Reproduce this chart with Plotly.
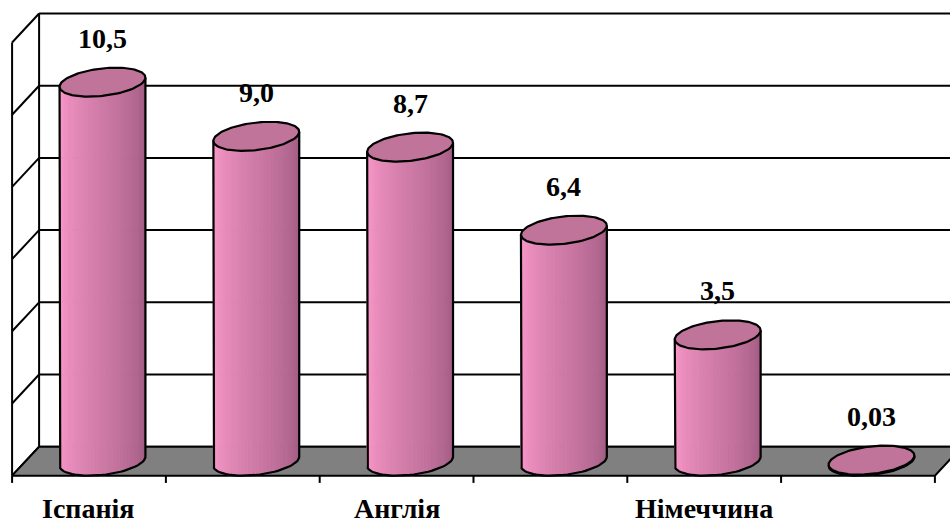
import numpy as np
import plotly.graph_objects as go

# ---- data ----
tick_labels = ["Іспанія", "", "Англія", "", "Німеччина", ""]
values = [10.5, 9.0, 8.7, 6.4, 3.5, 0.03]
value_labels = ["10,5", "9,0", "8,7", "6,4", "3,5", "0,03"]
y_ticks = [0, 2, 4, 6, 8, 10, 12]

# ---- style / geometry (axis units) ----
DEPTH_X = 0.1756   # full floor depth, horizontal shift
DEPTH_Y = 0.803    # full floor depth, vertical shift
RX = 0.265         # cylinder radius (x units)
N_STRIPS = 36
LIGHT = np.array([255, 156, 206])
DARK = np.array([158, 90, 128])
TOP_COLOR = "#C0749A"
FONT = "Liberation Serif"

n = len(values)
hx, hy = DEPTH_X / 2, DEPTH_Y / 2


def proj(c, v, d):
    return c + d * DEPTH_X, v + d * DEPTH_Y


fig = go.Figure()


def line(xs, ys, width=2, color="black"):
    fig.add_trace(go.Scatter(x=xs, y=ys, mode="lines",
                             line=dict(color=color, width=width),
                             hoverinfo="skip", showlegend=False))


x_left = -0.5
x_right = n - 0.5
ymax = y_ticks[-1]

# back wall gridlines
for v in y_ticks:
    x0, y0 = proj(x_left, v, 0.5)
    line([x0, x_right + 1.0], [y0, y0])
# left wall
fx0, fy0 = proj(x_left, 0, -0.5)
fx1, fy1 = proj(x_left, ymax, -0.5)
line([fx0, fx1], [fy0, fy1])
bx0, by0 = proj(x_left, 0, 0.5)
bx1, by1 = proj(x_left, ymax, 0.5)
line([bx0, bx1], [by0, by1])
for v in y_ticks:
    a = proj(x_left, v, -0.5)
    b = proj(x_left, v, 0.5)
    line([a[0], b[0]], [a[1], b[1]])

# floor
corners = [proj(x_left, 0, -0.5), proj(x_right, 0, -0.5),
           proj(x_right, 0, 0.5), proj(x_left, 0, 0.5), proj(x_left, 0, -0.5)]
fig.add_trace(go.Scatter(x=[c[0] for c in corners], y=[c[1] for c in corners],
                         mode="lines", fill="toself", fillcolor="#808080",
                         line=dict(color="black", width=2),
                         hoverinfo="skip", showlegend=False))
# front tick marks
for k in range(n + 1):
    bx, byy = proj(x_left + k, 0, -0.5)
    line([bx, bx], [byy, byy - 0.2])

# cylinders
alpha = np.arctan2(hx, RX)


def ell(c, v, th):
    return c + RX * np.cos(th) + hx * np.sin(th), v + hy * np.sin(th)


for i, v in enumerate(values):
    th = np.linspace(np.pi + alpha, 2 * np.pi + alpha, N_STRIPS + 1)
    for k in range(N_STRIPS):
        t = k / (N_STRIPS - 1)
        col = LIGHT * (1 - t) + DARK * t
        cs = "rgb(%d,%d,%d)" % tuple(col.astype(int))
        ta, tb = th[k], th[k + 1]
        p1 = ell(i, 0, ta); p2 = ell(i, 0, tb)
        p3 = ell(i, v, tb); p4 = ell(i, v, ta)
        fig.add_trace(go.Scatter(x=[p1[0], p2[0], p3[0], p4[0], p1[0]],
                                 y=[p1[1], p2[1], p3[1], p4[1], p1[1]],
                                 mode="lines", fill="toself", fillcolor=cs,
                                 line=dict(color=cs, width=1),
                                 hoverinfo="skip", showlegend=False))
    # outline: left side, bottom front arc, right side
    bx_, by_ = ell(i, 0, th)
    tlx, tly = ell(i, v, th[0])
    trx, try_ = ell(i, v, th[-1])
    xs = [tlx] + list(bx_) + [trx]
    ys = [tly] + list(by_) + [try_]
    line(xs, ys, width=2.2)
    # top ellipse
    tt = np.linspace(0, 2 * np.pi, 121)
    ex, ey = ell(i, v, tt)
    fig.add_trace(go.Scatter(x=ex, y=ey, mode="lines", fill="toself",
                             fillcolor=TOP_COLOR,
                             line=dict(color="black", width=2.2),
                             hoverinfo="skip", showlegend=False))

annotations = []
for i, (v, lab) in enumerate(zip(values, value_labels)):
    annotations.append(dict(x=i, y=v, text="<b>%s</b>" % lab, showarrow=False,
                            yshift=44, xanchor="center", yanchor="middle",
                            font=dict(family=FONT, size=28, color="black")))
for i, lab in enumerate(tick_labels):
    if not lab:
        continue
    cx, cy = proj(i, 0, -0.5)
    annotations.append(dict(x=cx, y=cy, text="<b>%s</b>" % lab, showarrow=False,
                            yshift=-33, xanchor="center", yanchor="middle",
                            font=dict(family=FONT, size=28, color="black")))

fig.update_layout(
    width=950, height=523,
    margin=dict(l=0, r=0, t=0, b=0),
    paper_bgcolor="white", plot_bgcolor="white",
    showlegend=False,
    font=dict(family=FONT),
    xaxis=dict(range=[-0.6664, 5.5104], visible=False, fixedrange=True),
    yaxis=dict(range=[-1.712, 12.776], visible=False, fixedrange=True),
    annotations=annotations,
)

fig.write_html("out.html")
